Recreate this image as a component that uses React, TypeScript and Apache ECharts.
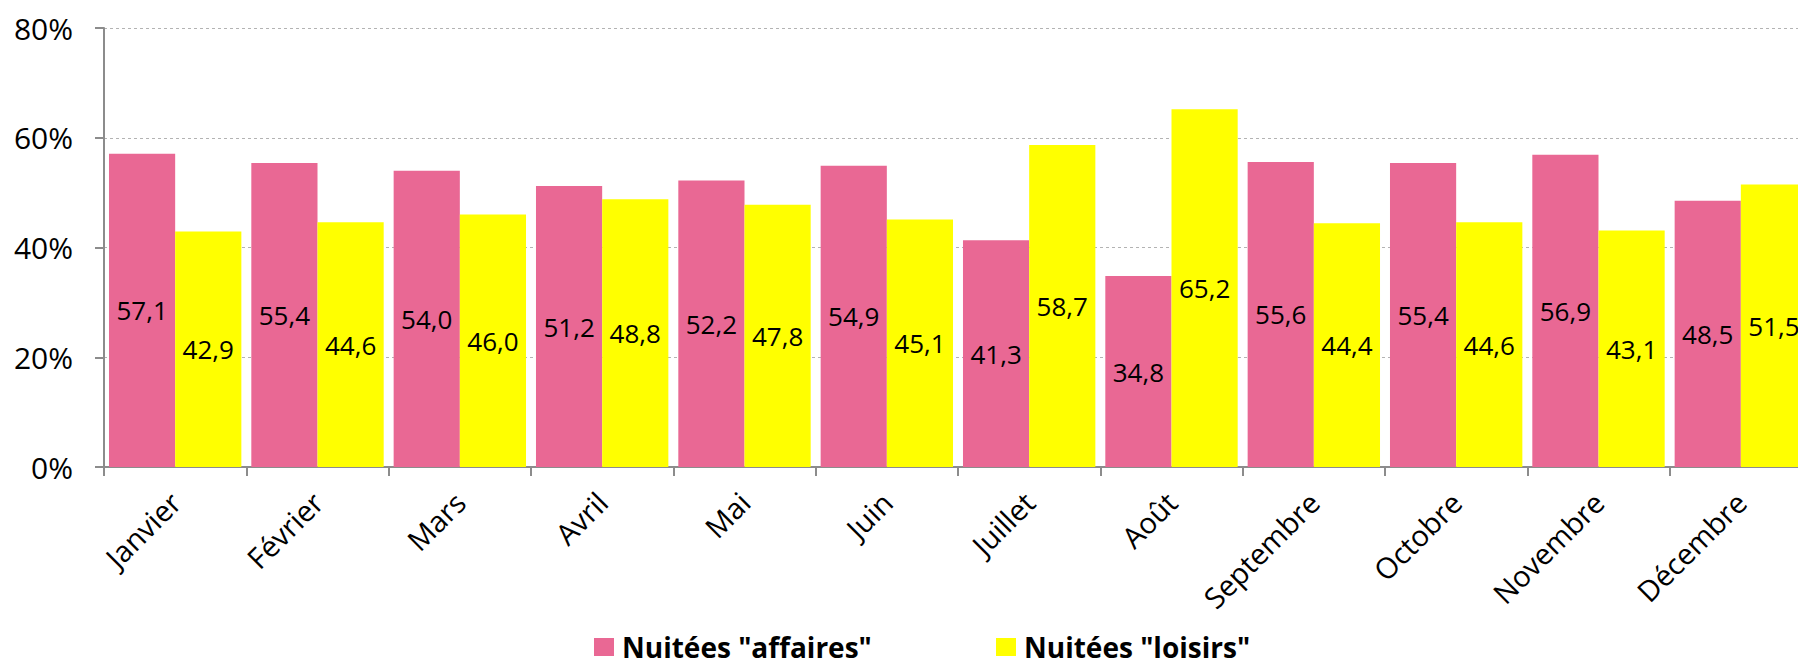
import React, { useEffect, useRef } from "react";
import * as echarts from "echarts";

const months = ["Janvier", "Février", "Mars", "Avril", "Mai", "Juin", "Juillet", "Août", "Septembre", "Octobre", "Novembre", "Décembre"];
const affaires = [57.1, 55.4, 54.0, 51.2, 52.2, 54.9, 41.3, 34.8, 55.6, 55.4, 56.9, 48.5];
const loisirs = [42.9, 44.6, 46.0, 48.8, 47.8, 45.1, 58.7, 65.2, 44.4, 44.6, 43.1, 51.5];
const seriesNames = ['Nuitées "affaires"', 'Nuitées "loisirs"'];
const yTicks = { min: 0, max: 80, interval: 20 };

const FONT = "'Open Sans', sans-serif";

export default function App() {
  const ref = useRef<HTMLDivElement>(null);
  useEffect(() => {
    if (!ref.current) return;
    const chart = echarts.init(ref.current, null, { renderer: "svg" });
    const label = {
      show: true,
      position: "inside",
      color: "#000",
      fontFamily: FONT,
      fontSize: 26,
      formatter: (p: any) => Number(p.value).toFixed(1).replace(".", ","),
    };
    const legendBase = {
      top: 633,
      padding: 0,
      itemWidth: 20,
      itemHeight: 18,
      itemGap: 0,
      icon: "rect",
      textStyle: { fontFamily: FONT, fontSize: 28, fontWeight: "bold", color: "#000", lineHeight: 24, padding: [0, 0, 0, 3] },
    };
    chart.setOption({
      animation: false,
      textStyle: { fontFamily: FONT },
      grid: { left: 104, right: 0, top: 28, bottom: 196, containLabel: false },
      legend: [
        { ...legendBase, left: 594, data: [seriesNames[0]] },
        { ...legendBase, left: 996, data: [seriesNames[1]] },
      ],
      xAxis: {
        type: "category",
        data: months,
        axisLine: { lineStyle: { color: "#8c8c8c", width: 2 } },
        axisTick: { show: true, length: 9, lineStyle: { color: "#8c8c8c", width: 2 } },
        axisLabel: { rotate: 45, margin: 30, color: "#000", fontFamily: FONT, fontSize: 29, interval: 0 },
      },
      yAxis: {
        type: "value",
        min: yTicks.min,
        max: yTicks.max,
        interval: yTicks.interval,
        axisLine: { show: true, lineStyle: { color: "#8c8c8c", width: 2 } },
        axisTick: { show: true, length: 9, lineStyle: { color: "#8c8c8c", width: 2 } },
        axisLabel: { formatter: "{value}%", margin: 31, color: "#000", fontFamily: FONT, fontSize: 30 },
        splitLine: { show: true, lineStyle: { color: "#b3b3b3", type: [3, 3], width: 1 } },
      },
      series: [
        {
          name: seriesNames[0],
          type: "bar",
          data: affaires,
          barGap: "0%",
          barCategoryGap: "7%",
          itemStyle: { color: "#E96894" },
          label,
        },
        {
          name: seriesNames[1],
          type: "bar",
          data: loisirs,
          barGap: "0%",
          barCategoryGap: "7%",
          itemStyle: { color: "#FFFF00" },
          label,
        },
      ],
    });
    return () => chart.dispose();
  }, []);
  return (
    <div style={{ position: "fixed", left: 0, top: 0, width: 1798, height: 663, overflow: "hidden", background: "#fff" }}>
      <div ref={ref} style={{ width: 1812, height: 663 }} />
    </div>
  );
}
